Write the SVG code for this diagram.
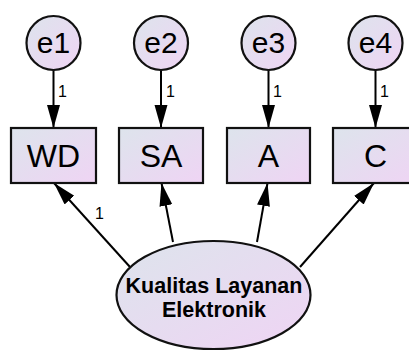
<svg xmlns="http://www.w3.org/2000/svg" width="409" height="351" viewBox="0 0 409 351">
<defs>
<linearGradient id="g" x1="0" y1="0" x2="1" y2="1">
<stop offset="0" stop-color="#dde4ec"/>
<stop offset="1" stop-color="#efd4f4"/>
</linearGradient>
<marker id="ah" markerUnits="userSpaceOnUse" markerWidth="24" markerHeight="14" refX="23" refY="6.5" orient="auto">
<path d="M0,0 L23,6.5 L0,13 z" fill="#000"/>
</marker>
<style>
.n{fill:url(#g);stroke:#111;stroke-width:2.2}
.t{font-family:"Liberation Sans",Arial,sans-serif;fill:#000;text-anchor:middle}
.e{font-size:30px}
.b{font-size:32px}
.k{font-size:21.5px;font-weight:bold}
.l{font-family:"Liberation Sans",Arial,sans-serif;font-size:16px;fill:#000}
.c{stroke:#000;stroke-width:2;fill:none;marker-end:url(#ah)}
</style>
</defs>
<g id="connectors">
<line class="c" x1="53.5" y1="70" x2="53.5" y2="128"/>
<line class="c" x1="161" y1="70" x2="161" y2="128"/>
<line class="c" x1="268.5" y1="70" x2="268.5" y2="128"/>
<line class="c" x1="375.5" y1="70" x2="375.5" y2="128"/>
<line class="c" x1="130" y1="267" x2="54" y2="183"/>
<line class="c" x1="173" y1="242" x2="161.5" y2="183"/>
<line class="c" x1="257" y1="242" x2="267.5" y2="183"/>
<line class="c" x1="300" y1="267" x2="374" y2="183"/>
<text class="l" x="58" y="97">1</text>
<text class="l" x="166" y="97">1</text>
<text class="l" x="273" y="97">1</text>
<text class="l" x="380" y="97">1</text>
<text class="l" x="95" y="219">1</text>
</g>
<g id="e1"><circle class="n" cx="53.5" cy="43" r="27"/><text class="t e" x="53.5" y="53">e1</text></g>
<g id="e2"><circle class="n" cx="161" cy="43" r="27"/><text class="t e" x="161" y="53">e2</text></g>
<g id="e3"><circle class="n" cx="268.5" cy="43" r="27"/><text class="t e" x="268.5" y="53">e3</text></g>
<g id="e4"><circle class="n" cx="375.5" cy="43" r="27"/><text class="t e" x="375.5" y="53">e4</text></g>
<g id="WD"><rect class="n" x="11" y="128" width="85" height="55"/><text class="t b" x="53.5" y="167">WD</text></g>
<g id="SA"><rect class="n" x="119" y="128" width="84" height="55"/><text class="t b" x="161" y="167">SA</text></g>
<g id="A"><rect class="n" x="227" y="128" width="83" height="55"/><text class="t b" x="268.5" y="167">A</text></g>
<g id="C"><rect class="n" x="333" y="128" width="85" height="55"/><text class="t b" x="375.5" y="167">C</text></g>
<g id="KLE"><ellipse class="n" cx="213.5" cy="295" rx="97" ry="54"/><text class="t k" x="214" y="293">Kualitas Layanan</text><text class="t k" x="214" y="317">Elektronik</text></g>
</svg>
